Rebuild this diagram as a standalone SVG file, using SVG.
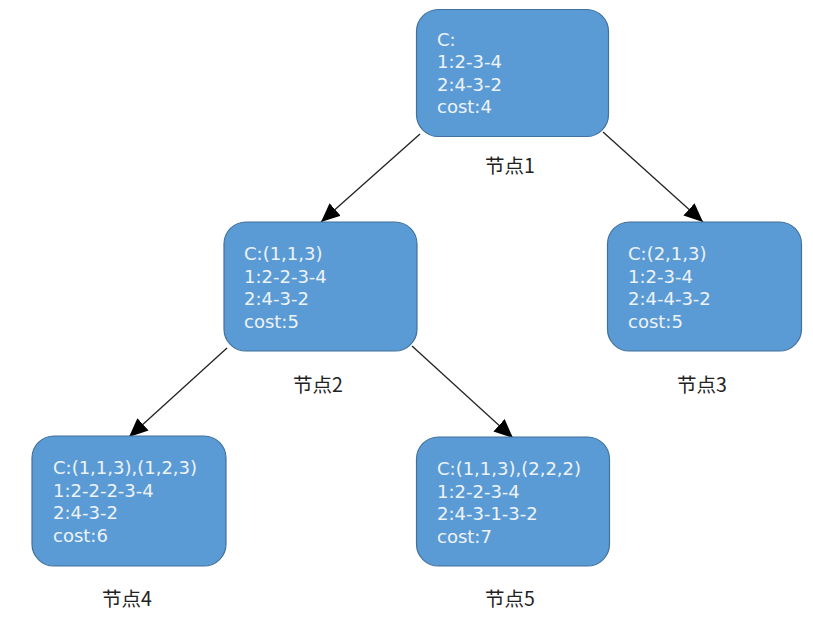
<svg xmlns="http://www.w3.org/2000/svg" width="813" height="621" viewBox="0 0 813 621">
<style>
.box{fill:#5b9bd5;stroke:#41719c;stroke-width:1.2}
.t{font-family:"DejaVu Sans","Noto Sans",sans-serif;font-size:18px;fill:#eef3fa}
.lbl{font-family:"Noto Sans CJK SC","Noto Sans",sans-serif;font-size:19.5px;fill:#222;text-anchor:middle}
.edge{stroke:#222;stroke-width:1.3;fill:none;marker-end:url(#arr)}
</style>
<defs>
<marker id="arr" markerUnits="userSpaceOnUse" markerWidth="20" markerHeight="18" refX="17" refY="7.5" orient="auto" viewBox="0 0 18 15">
<path d="M0,0 L17,7.5 L0,15 Z" fill="#000"/>
</marker>
</defs>
<rect width="813" height="621" fill="#fff"/>
<g id="edges">
<line class="edge" x1="420" y1="134" x2="321" y2="222"/>
<line class="edge" x1="603" y1="132" x2="703" y2="222"/>
<line class="edge" x1="227" y1="348" x2="129" y2="437"/>
<line class="edge" x1="412" y1="346" x2="513" y2="438"/>
</g>
<g id="node1">
<rect class="box" x="416.5" y="9.5" width="192" height="127" rx="22"/>
<text class="t" x="437" y="45.5">C:</text>
<text class="t" x="437" y="68">1:2-3-4</text>
<text class="t" x="437" y="90.5">2:4-3-2</text>
<text class="t" x="437" y="113">cost:4</text>
<text class="lbl" x="510" y="173">节点1</text>
</g>
<g id="node2">
<rect class="box" x="224" y="222" width="193" height="129" rx="22"/>
<text class="t" x="244" y="260">C:(1,1,3)</text>
<text class="t" x="244" y="282.5">1:2-2-3-4</text>
<text class="t" x="244" y="305">2:4-3-2</text>
<text class="t" x="244" y="327.5">cost:5</text>
<text class="lbl" x="318" y="392">节点2</text>
</g>
<g id="node3">
<rect class="box" x="607.5" y="222" width="194" height="129" rx="22"/>
<text class="t" x="628" y="260">C:(2,1,3)</text>
<text class="t" x="628" y="282.5">1:2-3-4</text>
<text class="t" x="628" y="305">2:4-4-3-2</text>
<text class="t" x="628" y="327.5">cost:5</text>
<text class="lbl" x="702" y="392">节点3</text>
</g>
<g id="node4">
<rect class="box" x="32" y="436" width="194" height="130" rx="22"/>
<text class="t" x="53" y="474">C:(1,1,3),(1,2,3)</text>
<text class="t" x="53" y="496.5">1:2-2-2-3-4</text>
<text class="t" x="53" y="519">2:4-3-2</text>
<text class="t" x="53" y="541.5">cost:6</text>
<text class="lbl" x="127" y="606">节点4</text>
</g>
<g id="node5">
<rect class="box" x="416.5" y="437" width="193" height="129" rx="22"/>
<text class="t" x="437" y="475">C:(1,1,3),(2,2,2)</text>
<text class="t" x="437" y="497.5">1:2-2-3-4</text>
<text class="t" x="437" y="520">2:4-3-1-3-2</text>
<text class="t" x="437" y="542.5">cost:7</text>
<text class="lbl" x="510" y="606">节点5</text>
</g>
</svg>
